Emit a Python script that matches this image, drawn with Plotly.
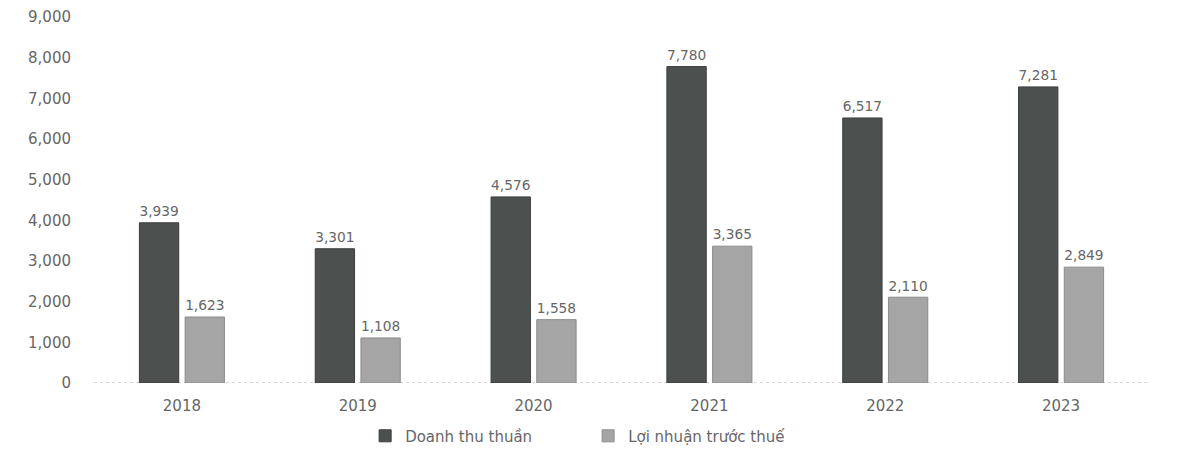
import plotly.graph_objects as go

years = ["2018", "2019", "2020", "2021", "2022", "2023"]
doanh_thu = [3939, 3301, 4576, 7780, 6517, 7281]
loi_nhuan = [1623, 1108, 1558, 3365, 2110, 2849]
series_names = ["Doanh thu thuần", "Lợi nhuận trước thuế"]
y_ticks = [0, 1000, 2000, 3000, 4000, 5000, 6000, 7000, 8000, 9000]

font_family = "DejaVu Sans, Verdana, sans-serif"
text_color = "#666666"

fig = go.Figure()
fig.add_trace(go.Bar(
    x=years, y=doanh_thu, name=series_names[0],
    marker=dict(color="#4c504f", line=dict(color="#3a3d3c", width=1)),
    text=[f"{v:,}" for v in doanh_thu], textposition="outside",
    textfont=dict(size=15, color=text_color, family=font_family),
    cliponaxis=False,
))
fig.add_trace(go.Bar(
    x=years, y=loi_nhuan, name=series_names[1],
    marker=dict(color="#a5a5a5", line=dict(color="#8c8c8c", width=1)),
    text=[f"{v:,}" for v in loi_nhuan], textposition="outside",
    textfont=dict(size=15, color=text_color, family=font_family),
    cliponaxis=False,
))

fig.update_layout(
    width=1177, height=451,
    margin=dict(l=86, r=36, t=9, b=76, autoexpand=False),
    paper_bgcolor="white", plot_bgcolor="white",
    barmode="group", bargap=0.48, bargroupgap=0.14,
    font=dict(family=font_family, color=text_color, size=15),
    showlegend=True,
    legend=dict(orientation="h", x=0.257, xanchor="left", y=-0.145, yanchor="middle",
                font=dict(size=15, color=text_color), itemwidth=30,
                entrywidth=178, entrywidthmode="pixels",
                traceorder="normal"),
    xaxis=dict(showgrid=False, showline=False, zeroline=False,
               ticks="", ticklabelstandoff=12, tickfont=dict(size=15, color=text_color)),
    yaxis=dict(range=[0, 9000], tickvals=y_ticks, tickformat=",", showgrid=False,
               zeroline=False, showline=False, ticks="", ticklabelstandoff=22,
               tickfont=dict(size=15, color=text_color)),
    shapes=[dict(type="line", xref="paper", x0=0, x1=1, yref="y", y0=0, y1=0,
                 line=dict(color="#b0b0b0", width=1, dash="dot"), layer="below")],
)

fig.write_html("out.html")
